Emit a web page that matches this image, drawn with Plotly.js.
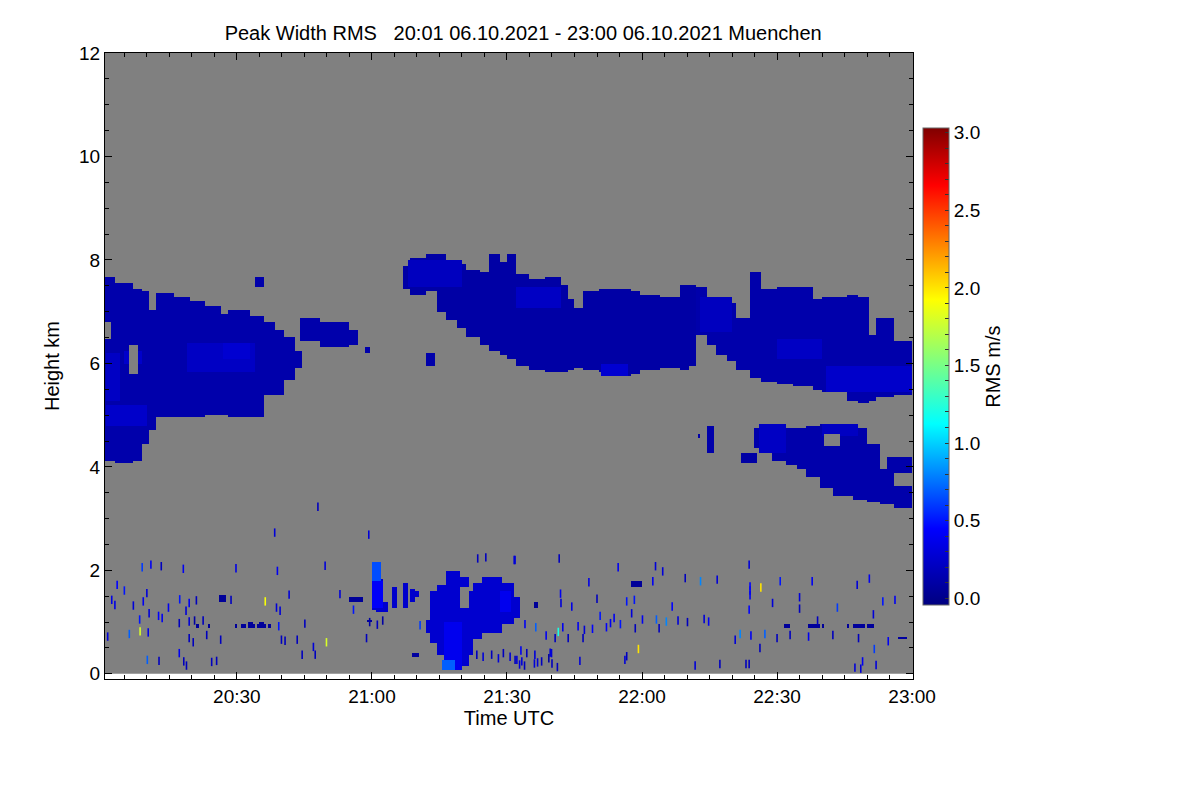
<!DOCTYPE html>
<html><head><meta charset="utf-8">
<script src="https://cdn.plot.ly/plotly-3.0.1.min.js"></script>
<style>html,body{margin:0;padding:0;background:#fff}#chart{width:1200px;height:800px}</style>
</head><body><div id="chart"></div>
<script>
// time: minutes after 20:00 UTC; height: km; value: RMS m/s
const tickVals = [30, 60, 90, 120, 150, 180];
const tickText = ['20:30', '21:00', '21:30', '22:00', '22:30', '23:00'];
const yTickVals = [0, 2, 4, 6, 8, 10, 12];
const cbTickVals = [0, 0.5, 1.0, 1.5, 2.0, 2.5, 3.0];
const cbTickText = ['0.0', '0.5', '1.0', '1.5', '2.0', '2.5', '3.0'];

// cloud layers: segment edges (t), bottom (lo) and top (hi) per segment, one value per layer
const layerA_t  = [0.7, 2.9, 6.9, 8.9, 10.7, 11.8, 16.2, 19.6, 22.9, 26.7, 28, 32.9, 36.2, 38.4, 40.7, 42.9, 44.7];
const layerA_lo = [4.14, 4.1, 4.14, 4.43, 4.72, 4.95, 4.95, 4.97, 5.01, 5.01, 4.95, 4.95, 5.4, 5.4, 5.69, 5.92];
const layerA_hi = [7.68, 7.57, 7.43, 7.39, 7.04, 7.35, 7.28, 7.2, 7.14, 6.97, 7.03, 6.93, 6.8, 6.66, 6.54, 6.23];

const layerB_t  = [66.9, 68.4, 71.8, 74.4, 76.7, 78.9, 81.1, 84, 86.2, 88.4, 90, 92.2, 95.1, 98.4, 101.8, 103.3, 105.1, 106.9, 110.7, 114, 117.3, 119.6, 124, 128.4, 130.7, 132.2];
const layerB_lo = [7.43, 7.33, 7.39, 6.99, 6.85, 6.7, 6.52, 6.37, 6.23, 6.17, 6.08, 5.96, 5.88, 5.84, 5.84, 5.88, 5.92, 5.88, 5.84, 5.75, 5.79, 5.9, 5.94, 5.88, 5.98];
const layerB_hi = [7.88, 8.05, 8.11, 8.13, 8.01, 7.92, 7.82, 7.78, 8.11, 7.97, 8.11, 7.72, 7.66, 7.68, 7.53, 7.24, 7.1, 7.39, 7.43, 7.43, 7.39, 7.33, 7.3, 7.51, 7.51];

const layerC_t  = [132.2, 134.4, 136.7, 138.9, 141.1, 144, 146.7, 150, 153.6, 158, 160.2, 165.6, 167.8, 170.7, 172.2, 175.8, 180.2];
const layerC_lo = [6.56, 6.37, 6.17, 6.04, 5.88, 5.73, 5.65, 5.61, 5.57, 5.5, 5.46, 5.3, 5.24, 5.3, 5.38, 5.4];
const layerC_hi = [7.49, 7.24, 7.18, 7.18, 6.89, 7.78, 7.43, 7.47, 7.47, 7.24, 7.28, 7.32, 7.3, 6.56, 6.89, 6.46];

const layerD_t  = [145.1, 146.2, 149.1, 152.2, 154.4, 156.7, 159.6, 162.4, 166.9, 170, 172.9, 175.8, 180.2];
const layerD_lo = [4.37, 4.3, 4.14, 4.03, 3.95, 3.79, 3.62, 3.43, 3.37, 3.33, 3.27, 3.21];
const layerD_hi = [4.76, 4.86, 4.53, 4.78, 4.78, 4.8, 4.86, 4.86, 4.78, 4.43, 3.95, 3.66];

const layerL_t  = [59.9, 60.8, 61.7, 62.6, 63.6, 71.8, 72.9, 74.4, 76.7, 79.6, 81.3, 82.4, 84.7, 89.1, 91.3, 92.9];
const layerL_lo = [1.25, 1.2, 1.2, 1.22, null, 0.8, 0.62, 0.37, 0.08, 0.17, 0.37, 0.7, 0.8, 0.95, 1.1];
const layerL_hi = [1.9, 2.15, 1.85, 1.4, null, 1.05, 1.6, 1.72, 2.0, 1.9, 1.6, 1.75, 1.88, 1.75, 1.5];

const layerValues = [0.12, 0.1, 0.12, 0.12, 0.26];

// rectangular patches: small echoes, brighter cores, dashes; value null = gap (no echo)
const patchT0 = [33.8, 44, 48.4, 55.1, 58.7, 72, 141.8, 134.4, 132.5, 174.4,
  54.9, 25.8, 117.3, 96, 64.7, 67, 68.4, 69.5, 68.9, 58.8, 177,
  21, 23.3, 28.3, 29.6, 31, 32.5, 34.4, 37, 32.7, 34.9,
  151.3, 153.8, 155.3, 157.1, 160.2, 165.5, 166.4, 167, 170, 173.8,
  1, 5, 19, 27, 1, 68, 92, 111, 133, 150, 161, 146, 160, 60.2, 60, 76, 75.5, 88.5,
  5.8, 0.7, 160.5, 79.6];
const patchT1 = [36, 48.4, 55.1, 56.9, 59.6, 73.8, 145.6, 135.8, 133.1, 180.2,
  58, 27.5, 120, 97.2, 65.6, 68, 69.3, 70.5, 70.7, 60, 178.8,
  21.7, 24.2, 28.6, 29.9, 31.8, 34, 36.6, 37.3, 33.6, 35.8,
  152.9, 154.1, 155.6, 159.6, 160.5, 165.8, 166.7, 169.6, 171.3, 174.1,
  10, 9, 34, 33, 4, 80, 102, 117, 140, 160, 180.2, 152, 168, 61.8, 62.5, 80, 78.5, 91,
  8, 2.2, 163.8, 81.3];
const patchH0 = [7.47, 6.43, 6.33, 6.37, 6.2, 5.96, 4.1, 4.3, 4.55, 3.9,
  1.42, 1.42, 1.69, 1.3, 1.3, 1.3, 1.4, 1.5, 0.33, 1.0, 0.67,
  0.9, 0.9, 0.9, 0.9, 0.9, 0.9, 0.9, 0.9, 0.95, 0.95,
  0.9, 0.9, 0.9, 0.9, 0.9, 0.9, 0.9, 0.9, 0.9, 0.9,
  4.8, 6.0, 5.85, 6.1, 5.3, 7.5, 7.1, 5.75, 6.6, 6.1, 5.45, 4.3, 4.6, 1.8, 1.3, 0.1, 0.08, 1.2,
  5.8, 6.5, 4.42, 1.3];
const patchH1 = [7.7, 6.89, 6.81, 6.66, 6.33, 6.2, 4.3, 4.82, 4.65, 4.2,
  1.5, 1.52, 1.8, 1.39, 1.7, 1.78, 1.65, 1.6, 0.42, 1.06, 0.71,
  0.95, 0.95, 0.95, 0.95, 0.95, 0.95, 0.95, 0.95, 0.99, 0.99,
  0.95, 0.95, 0.95, 0.95, 0.95, 0.95, 0.95, 0.95, 0.95, 0.95,
  5.2, 6.25, 6.4, 6.4, 6.2, 8.0, 7.5, 6.02, 7.3, 6.5, 5.95, 4.86, 4.86, 2.15, 1.8, 1.0, 0.3, 1.6,
  6.35, 6.8, 4.66, 1.7];
const patchV = [0.12, 0.12, 0.12, 0.12, 0.12, 0.12, 0.1, 0.12, 0.12, 0.12,
  0.05, 0.05, 0.05, 0.05, 0.25, 0.25, 0.25, 0.25, 0.08, 0.08, 0.08,
  0.06, 0.06, 0.06, 0.06, 0.06, 0.06, 0.06, 0.06, 0.06, 0.06,
  0.06, 0.06, 0.06, 0.06, 0.06, 0.06, 0.06, 0.06, 0.06, 0.06,
  0.24, 0.24, 0.22, 0.27, 0.22, 0.2, 0.22, 0.27, 0.2, 0.22, 0.24, 0.22, 0.21, 0.65, 0.42, 0.38, 0.7, 0.38,
  null, null, null, null];

// isolated single-gate echoes
const spT = [8.96, 10.9, 13.2, 18.1, 29.8, 39, 49.6, 3.4, 5, 10, 2.2, 2.9, 7, 9.2, 14.8, 17.3, 19.4, 21, 28.7, 36.3, 41.6, 52.9, 38.8, 39.6, 10.5, 12.6, 13.4, 8.4, 18.7, 17.2, 19.4, 20.6, 22.5, 45.1, 1.3, 6.1, 8.5, 10.3, 19.4, 20.3, 23.3, 26.4, 39.9, 40.7, 43.4, 47, 49.9, 44.5, 47.4, 17.2, 10.1, 12.7, 18.2, 18.8, 24.4, 25.5, 55.9, 58.8, 39.3,
  101.6, 114.7, 123, 124.6, 129.6, 143.8, 170.5, 108.2, 122.4, 133, 136.7, 144, 144, 146.4, 150.7, 157.8, 167.8, 101.9, 110, 144, 155, 173.5, 176.2, 102, 104.4, 116.6, 118.3, 126.7, 149, 163.4, 155, 143.8, 117.7, 110.7, 113.8, 120.1, 123.2, 125.4, 128, 130.1, 133.8, 134.8, 159, 171.4, 94, 96.4, 102.4, 105.8, 107.2, 109, 112.1, 113, 115.2, 118.5, 123.8, 101.4, 98.7, 100.7, 103.6, 106.9, 141.8, 144.2, 140.7, 147.3, 150, 152.9, 157, 162.4, 168.1, 174.7, 119.2, 146.2, 171.6, 116.6, 116.2, 169, 172, 167.3, 168.6, 131.8, 137.3, 143.1, 143.8, 106.2,
  93.1, 99.6, 99.3, 92.2, 92.8, 93.9, 96.1, 96.8, 100, 101.2,
  83.3, 84.7, 86.6, 88.1, 89.2, 90.7, 91.8, 93.3, 94.4, 96.2, 97.7, 99.9,
  83.5, 91.6, 70.7, 59.5, 61.2, 62.4, 48, 59.3, 38.4, 85.3, 91.8];
const spH = [2.06, 2.11, 2.08, 2.03, 2.04, 1.99, 2.09, 1.72, 1.61, 1.56, 1.43, 1.33, 1.32, 1.4, 1.28, 1.44, 1.37, 1.42, 1.43, 1.4, 1.53, 1.54, 1.28, 1.22, 1.17, 1.12, 1.08, 1.05, 1.22, 0.98, 1.01, 1.03, 1.03, 0.97, 0.72, 0.77, 0.82, 0.8, 0.69, 0.61, 0.75, 0.66, 0.66, 0.64, 0.66, 0.52, 0.61, 0.37, 0.37, 0.4, 0.27, 0.25, 0.24, 0.16, 0.23, 0.25, 1.24, 0.69, 0.92,
  2.23, 2.06, 2.08, 1.98, 1.85, 2.11, 1.84, 1.77, 1.79, 1.79, 1.82, 1.61, 1.69, 1.67, 1.79, 1.79, 1.72, 1.55, 1.45, 1.52, 1.48, 1.4, 1.43, 1.37, 1.3, 1.4, 1.43, 1.3, 1.37, 1.28, 1.26, 1.24, 1.17, 1.12, 1.08, 1.05, 1.05, 1.01, 1.03, 1.0, 1.06, 1.01, 1.03, 1.15, 0.96, 0.9, 0.9, 0.92, 0.85, 0.87, 0.9, 0.98, 0.96, 0.88, 0.88, 0.81, 0.74, 0.69, 0.69, 0.69, 0.77, 0.74, 0.66, 0.77, 0.69, 0.75, 0.72, 0.75, 0.69, 0.63, 0.48, 0.5, 0.48, 0.34, 0.27, 0.24, 0.17, 0.12, 0.1, 0.16, 0.19, 0.19, 0.19, 0.25,
  0.45, 0.41, 0.3, 0.27, 0.18, 0.16, 0.2, 0.22, 0.2, 0.13,
  0.37, 0.33, 0.37, 0.3, 0.4, 0.33, 0.27, 0.24, 0.4, 0.37, 0.24, 0.4,
  2.23, 2.2, 0.94, 1.0, 0.95, 1.03, 3.23, 2.69, 2.73, 2.25, 2.2];
const spV = [0.6, 0.4, 0.2, 0.4, 0.35, 0.4, 0.3, 0.45, 0.5, 0.3, 0.35, 0.35, 0.3, 0.4, 0.4, 0.5, 0.4, 0.2, 0.2, 1.9, 0.3, 0.3, 0.3, 0.3, 0.3, 0.45, 0.4, 0.5, 0.3, 0.2, 0.3, 0.1, 0.2, 0.2, 0.3, 0.7, 1.8, 0.35, 0.2, 0.2, 0.2, 0.2, 0.2, 0.2, 0.2, 0.3, 1.8, 0.2, 0.2, 0.4, 0.7, 0.2, 0.2, 0.2, 0.2, 0.2, 0.5, 0.2, 0.5,
  0.2, 0.4, 0.3, 0.3, 0.2, 0.3, 0.4, 0.35, 0.4, 0.8, 0.3, 0.45, 0.45, 2.0, 0.5, 0.4, 0.3, 0.4, 0.2, 0.4, 0.3, 0.5, 0.4, 0.3, 0.35, 0.5, 0.5, 0.45, 0.3, 0.6, 0.2, 0.45, 0.3, 0.5, 0.4, 0.4, 0.7, 0.8, 0.3, 0.2, 0.3, 0.4, 0.2, 0.3, 0.4, 0.7, 0.4, 0.4, 0.3, 0.45, 0.45, 0.4, 0.5, 0.2, 0.2, 1.2, 0.4, 0.2, 0.2, 0.2, 0.8, 0.4, 0.3, 0.7, 0.2, 0.2, 0.4, 0.2, 0.2, 0.4, 2.0, 0.2, 0.6, 0.2, 0.3, 0.4, 0.3, 0.3, 0.3, 0.3, 0.2, 0.2, 0.2, 0.3,
  0.4, 0.3, 0.1, 0.3, 0.3, 0.2, 0.3, 0.3, 0.2, 0.2,
  0.2, 0.3, 0.2, 0.3, 0.2, 0.3, 0.2, 0.3, 0.2, 0.3, 0.2, 0.3,
  0.2, 0.3, 0.6, 0.1, 0.2, 0.1, 0.2, 0.3, 0.3, 0.2, 0.3];

// ---- build the heatmap table from the arrays above ----
const layers = [
  [layerA_t, layerA_lo, layerA_hi],
  [layerB_t, layerB_lo, layerB_hi],
  [layerC_t, layerC_lo, layerC_hi],
  [layerD_t, layerD_lo, layerD_hi],
  [layerL_t, layerL_lo, layerL_hi]
];
const dt = 0.5, dh = 0.04;
const xs = [], ys = [];
for (let t = 0.75; t < 180.3; t += dt) xs.push(+t.toFixed(3));
for (let h = dh / 2; h < 12; h += dh) ys.push(+h.toFixed(4));
const z = ys.map(() => xs.map(() => null));
layers.forEach((L, li) => {
  const [tt, lo, hi] = L;
  xs.forEach((c, ci) => {
    for (let i = 0; i < tt.length - 1; i++) {
      if (c >= tt[i] && c < tt[i + 1]) {
        if (lo[i] !== null) {
          ys.forEach((hc, ri) => { if (hc >= lo[i] && hc < hi[i]) z[ri][ci] = layerValues[li]; });
        }
        break;
      }
    }
  });
});
patchT0.forEach((t0, p) => {
  xs.forEach((c, ci) => {
    if (c >= t0 && c < patchT1[p]) {
      ys.forEach((hc, ri) => {
        if (hc >= patchH0[p] && hc < patchH1[p]) z[ri][ci] = patchV[p];
      });
    }
  });
});

const zMin = -0.045, zMax = 3.03;
const jet = [[0, 'rgb(0,0,128)'], [0.16, 'rgb(0,0,255)'], [0.38, 'rgb(0,255,255)'],
  [0.64, 'rgb(255,255,0)'], [0.88, 'rgb(255,0,0)'], [1, 'rgb(128,0,0)']];
const FONT = 'Liberation Sans, Arial, Helvetica, sans-serif';

const cbVals = [], cbText = [];
for (let k = 0; k <= 30; k++) {
  const v = k / 10;
  cbVals.push(v);
  const idx = cbTickVals.findIndex(q => Math.abs(q - v) < 1e-9);
  cbText.push(idx >= 0 ? cbTickText[idx] : '');
}

const heat = {
  type: 'heatmap', x: xs, y: ys, z: z,
  zmin: zMin, zmax: zMax, colorscale: jet, zsmooth: false,
  hoverinfo: 'skip',
  colorbar: {
    x: 1.0124, xanchor: 'left', y: 0.499, yanchor: 'middle',
    len: 0.762, lenmode: 'fraction', thickness: 26, thicknessmode: 'pixels',
    outlinewidth: 1, outlinecolor: '#666', xpad: 0, ypad: 0,
    tickmode: 'array', tickvals: cbVals, ticktext: cbText,
    ticks: 'inside', ticklen: 4, tickcolor: '#333',
    tickfont: {family: FONT, size: 19, color: '#000'},
    title: {text: 'RMS m/s', side: 'right', font: {family: FONT, size: 20, color: '#000'}}
  }
};
const specks = {
  type: 'scatter', mode: 'markers', x: spT, y: spH, hoverinfo: 'skip', showlegend: false,
  marker: {symbol: 'line-ns', size: 6,
    line: {width: 1.6, color: spV, colorscale: jet, cmin: zMin, cmax: zMax}}
};

const axisCommon = {
  ticks: 'inside', ticklen: 7, tickwidth: 1, tickcolor: '#000',
  showline: true, linecolor: '#000', linewidth: 1, mirror: 'ticks',
  showgrid: false, zeroline: false,
  tickfont: {family: FONT, size: 19, color: '#000'}
};
const layout = {
  width: 1200, height: 800,
  margin: {l: 105, r: 287, t: 53, b: 121},
  paper_bgcolor: '#fff', plot_bgcolor: '#fff',
  font: {family: FONT, color: '#000'},
  title: {text: 'Peak Width RMS\u00a0\u00a0\u00a020:01 06.10.2021 - 23:00 06.10.2021 Muenchen',
    x: 0.436, xanchor: 'center', y: 1 - 33 / 800, yanchor: 'middle', yref: 'container',
    font: {family: FONT, size: 20, color: '#000'}},
  xaxis: Object.assign({}, axisCommon, {
    range: [0.7, 180.2], tickmode: 'array', tickvals: tickVals, ticktext: tickText,
    minor: {tickmode: 'linear', tick0: 0, dtick: 5, ticks: 'inside', ticklen: 4, tickcolor: '#000'},
    title: {text: 'Time UTC', font: {family: FONT, size: 20, color: '#000'}, standoff: 4}
  }),
  yaxis: Object.assign({}, axisCommon, {
    range: [-0.1, 12], tickmode: 'array', tickvals: yTickVals,
    minor: {tickmode: 'linear', tick0: 0, dtick: 0.5, ticks: 'inside', ticklen: 4, tickcolor: '#000'},
    title: {text: 'Height km', font: {family: FONT, size: 20, color: '#000'}, standoff: 14}
  }),
  shapes: [{type: 'rect', xref: 'paper', yref: 'y', x0: 0, x1: 1, y0: 0, y1: 12,
    fillcolor: '#808080', line: {width: 0}, layer: 'below'}]
};
Plotly.newPlot('chart', [heat, specks], layout, {displayModeBar: false, staticPlot: true});
</script>
</body></html>
